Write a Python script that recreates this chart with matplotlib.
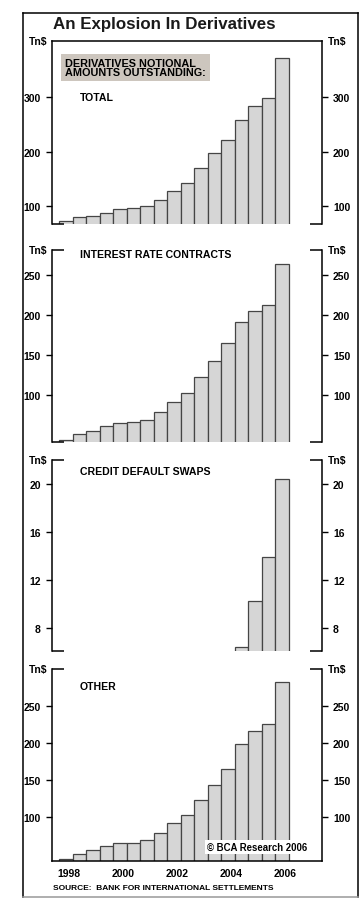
import numpy as np
import matplotlib
matplotlib.use("Agg")
import matplotlib.pyplot as plt

plt.rcParams['font.family'] = ['Liberation Sans', 'DejaVu Sans']
plt.rcParams['font.weight'] = 'bold'

# ------------------ data (Tn$, semi-annual, Jun-1998 .. Jun-2006) ------------------
periods = ['Jun98', 'Dec98', 'Jun99', 'Dec99', 'Jun00', 'Dec00', 'Jun01', 'Dec01', 'Jun02',
           'Dec02', 'Jun03', 'Dec03', 'Jun04', 'Dec04', 'Jun05', 'Dec05', 'Jun06']
total = [72.5, 80, 81.5, 88.5, 94.5, 96, 100, 111, 128, 142, 170, 198, 221, 259, 283, 299, 372]
interest_rate = [43.5, 50.5, 54.5, 60.5, 64.5, 66, 68, 79, 90.5, 102, 122, 142, 165, 190.5, 204.5, 212, 263]
cds = [np.nan] * 13 + [6.4, 10.2, 13.9, 20.4]
other = [42.4, 50, 54.6, 60, 64, 64, 68, 78, 91, 102, 122, 143, 165, 198, 216, 226, 283]

panel_titles = ['TOTAL', 'INTEREST RATE CONTRACTS', 'CREDIT DEFAULT SWAPS', 'OTHER']
panel_values = [total, interest_rate, cds, other]
panel_ylims = [(67.5, 403), (41, 281), (6.05, 22.0), (40, 300)]
panel_yticks = [[100, 200, 300], [100, 150, 200, 250], [8, 12, 16, 20], [100, 150, 200, 250]]
year_labels = ['1998', '2000', '2002', '2004', '2006']

W, H = 363, 912
fig = plt.figure(figsize=(W / 100, H / 100), dpi=100)

# bar position: year of the period (June bar on the year, December half a year later)
x = np.array([1998 + 0.5 * i for i in range(len(periods))])

# pixel boxes (top, bottom) of the four panels
boxes = [(42, 225), (251, 443), (461, 652), (670, 862)]
left_px, right_px = 52, 322
fill = '#d6d6d6'
edge = '#454545'
tick_fs = 7.5
corner = 12 / (right_px - left_px)


def seg(ax, xs, ys):
    ax.plot(xs, ys, color='black', lw=1.1, transform=ax.transAxes, clip_on=False,
            solid_capstyle='butt')


axes = []
for k, (top, bot) in enumerate(boxes):
    ax = fig.add_axes([left_px / W, 1 - bot / H, (right_px - left_px) / W, (bot - top) / H])
    axes.append(ax)
    vals = np.array(panel_values[k], dtype=float)
    ax.bar(x, vals, width=0.5, color=fill, edgecolor=edge, linewidth=0.9, zorder=2)
    ax.set_xlim(1997.48, 2007.48)
    ax.set_ylim(*panel_ylims[k])
    ax.set_yticks(panel_yticks[k])
    ax.tick_params(axis='y', direction='out', length=4, width=1, left=True, right=True,
                   labelleft=True, labelright=True, labelsize=tick_fs, pad=4)
    for lab in ax.get_yticklabels():
        lab.set_fontweight('bold')
    ax.tick_params(axis='x', length=0)
    ax.set_xticks([])
    for s in ['left', 'right']:
        ax.spines[s].set_linewidth(1.1)
    ax.spines['top'].set_visible(k == 0)
    ax.spines['bottom'].set_visible(k == 3)
    ax.spines['top'].set_linewidth(1.1)
    ax.spines['bottom'].set_linewidth(1.1)
    if k > 0:
        seg(ax, [0, corner], [1, 1])
        seg(ax, [1 - corner, 1], [1, 1])
    if k < 3:
        seg(ax, [0, corner], [0, 0])
        seg(ax, [1 - corner, 1], [0, 0])

    # Tn$ units
    ax.text(-0.018, 1.0, 'Tn$', transform=ax.transAxes, ha='right', va='center',
            fontsize=7.5, fontweight='bold')
    ax.text(1.022, 1.0, 'Tn$', transform=ax.transAxes, ha='left', va='center',
            fontsize=7.5, fontweight='bold')

# panel titles (pixel positions)
title_y = [98, 255, 472, 687]
for k, t in enumerate(panel_titles):
    fig.text(80 / W, 1 - title_y[k] / H, t, ha='left', va='center', fontsize=7.6,
             fontweight='bold')

# grey header box
fig.text(65 / W, 1 - 68.5 / H, 'DERIVATIVES NOTIONAL\nAMOUNTS OUTSTANDING:', ha='left',
         va='center', fontsize=7.8, fontweight='bold', linespacing=0.88,
         bbox=dict(boxstyle='square,pad=0.4', fc='#cdc6be', ec='none'))

# x labels on the bottom panel
axb = axes[3]
for i, yl in enumerate(year_labels):
    axb.text(int(yl) + 0.12, -0.06, yl, transform=axb.get_xaxis_transform(), ha='center',
             va='center', fontsize=7.5, fontweight='bold')

axb.text(0.945, 0.075, '\u00a9 BCA Research 2006', transform=axb.transAxes, ha='right',
         va='center', fontsize=6.9, fontweight='bold', zorder=5,
         bbox=dict(boxstyle='square,pad=0.2', fc='white', ec='none'))

fig.text(53 / W, 1 - 889 / H, 'SOURCE:  BANK FOR INTERNATIONAL SETTLEMENTS', ha='left',
         va='center', fontsize=6.0, fontweight='bold')

# main title
fig.text(53 / W, 1 - 25 / H, 'An Explosion In Derivatives', ha='left', va='center',
         fontsize=12.2, fontweight='bold', color='#1a1a1a')

# outer frame
fx0, fx1, fy0, fy1 = 23 / W, 358 / W, 1 - 14 / H, 1 - 898 / H
fig.add_artist(plt.Line2D([fx0, fx1], [fy0, fy0], color='black', lw=1.1))
fig.add_artist(plt.Line2D([fx0, fx0], [fy0, fy1], color='black', lw=1.1))
fig.add_artist(plt.Line2D([fx1, fx1], [fy0, fy1], color='black', lw=1.1))
fig.add_artist(plt.Line2D([fx0, fx1], [fy1, fy1], color='#999999', lw=1.1))

fig.savefig('out.png', dpi=100, facecolor='white')
